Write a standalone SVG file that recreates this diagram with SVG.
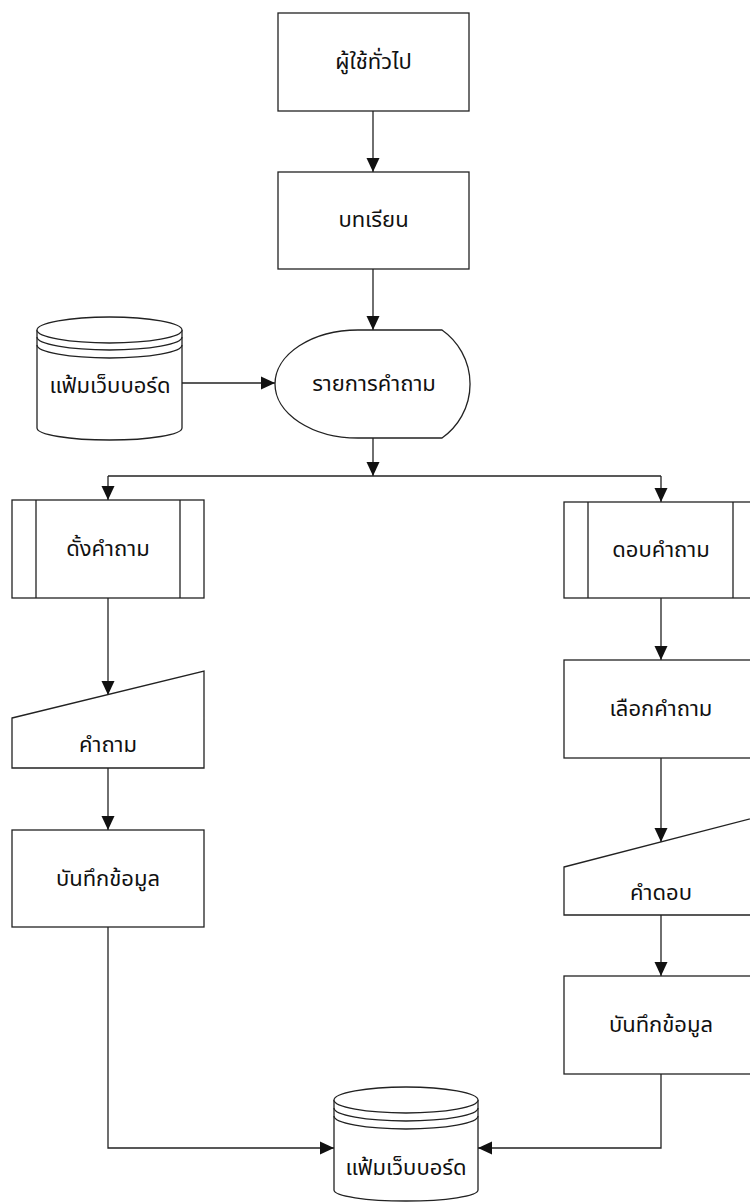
<svg xmlns="http://www.w3.org/2000/svg" width="750" height="1204" viewBox="0 0 750 1204">
<style>
.s{fill:#fff;stroke:#222;stroke-width:1.3}
.l{fill:none;stroke:#222;stroke-width:1.3}
.c{fill:none;stroke:#222;stroke-width:1.3}
text{font-family:"Noto Sans Thai","Noto Sans","DejaVu Sans",sans-serif;font-size:22px;fill:#111;text-anchor:middle;dominant-baseline:central}
</style>
<defs>
<marker id="a" markerUnits="userSpaceOnUse" markerWidth="14" markerHeight="14" refX="14" refY="7" orient="auto">
<path d="M0,0.5 L14,7 L0,13.5 z" fill="#111"/>
</marker>
</defs>
<rect width="750" height="1204" fill="#fff"/>
<g id="connectors">
<path class="c" d="M373,111 V172" marker-end="url(#a)"/>
<path class="c" d="M373,269 V330" marker-end="url(#a)"/>
<path class="c" d="M182,383 H275" marker-end="url(#a)"/>
<path class="c" d="M373,438 V476" marker-end="url(#a)"/>
<path class="c" d="M108,476 H661"/>
<path class="c" d="M108,476 V500" marker-end="url(#a)"/>
<path class="c" d="M661,476 V502" marker-end="url(#a)"/>
<path class="c" d="M108,598 V695" marker-end="url(#a)"/>
<path class="c" d="M661,598 V660" marker-end="url(#a)"/>
<path class="c" d="M108,768 V830" marker-end="url(#a)"/>
<path class="c" d="M661,758 V842" marker-end="url(#a)"/>
<path class="c" d="M661,915 V976" marker-end="url(#a)"/>
<path class="c" d="M108,927 V1148 H334" marker-end="url(#a)"/>
<path class="c" d="M661,1074 V1148 H478" marker-end="url(#a)"/>
</g>
<g id="n1">
<rect class="s" x="278" y="13" width="191" height="98"/>
<text x="373.5" y="62">ผู้ใช้ทั่วไป</text>
</g>
<g id="n2">
<rect class="s" x="278" y="172" width="191" height="97"/>
<text x="373.5" y="220">บทเรียน</text>
</g>
<g id="n3">
<path class="s" d="M358,330 H442 A66,66 0 0 1 442,438 H358 A83,54 0 0 1 358,330 Z"/>
<text x="374" y="384">รายการคำถาม</text>
</g>
<g id="n4">
<path class="s" d="M37,330 V428 A72.5,12 0 0 0 182,428 V330"/>
<ellipse class="s" cx="109.5" cy="330" rx="72.5" ry="13"/>
<path class="l" d="M37,337 A72.5,13 0 0 0 182,337"/>
<path class="l" d="M37,345 A72.5,13 0 0 0 182,345"/>
<text x="110" y="386">แฟ้มเว็บบอร์ด</text>
</g>
<g id="n5">
<rect class="s" x="12" y="500" width="192" height="98"/>
<path class="l" d="M36,500 V598 M180,500 V598"/>
<text x="108" y="549">ดั้งคำถาม</text>
</g>
<g id="n6">
<rect class="s" x="564" y="502" width="193" height="96"/>
<path class="l" d="M588,502 V598 M733,502 V598"/>
<text x="661" y="550">ดอบคำถาม</text>
</g>
<g id="n7">
<path class="s" d="M12,718 L204,671 V768 H12 Z"/>
<text x="108" y="745">คำถาม</text>
</g>
<g id="n8">
<rect class="s" x="564" y="660" width="193" height="98"/>
<text x="661" y="709">เลือกคำถาม</text>
</g>
<g id="n9">
<rect class="s" x="12" y="830" width="192" height="97"/>
<text x="108" y="879">บันทึกข้อมูล</text>
</g>
<g id="n10">
<path class="s" d="M564,867 L757,817 V915 H564 Z"/>
<text x="661" y="893">คำดอบ</text>
</g>
<g id="n11">
<rect class="s" x="564" y="976" width="193" height="98"/>
<text x="661" y="1025">บันทึกข้อมูล</text>
</g>
<g id="n12">
<path class="s" d="M334,1100 V1190 A72,11 0 0 0 478,1190 V1100"/>
<ellipse class="s" cx="406" cy="1100" rx="72" ry="13"/>
<path class="l" d="M334,1108 A72,13 0 0 0 478,1108"/>
<path class="l" d="M334,1116 A72,13 0 0 0 478,1116"/>
<text x="406" y="1168">แฟ้มเว็บบอร์ด</text>
</g>
</svg>
